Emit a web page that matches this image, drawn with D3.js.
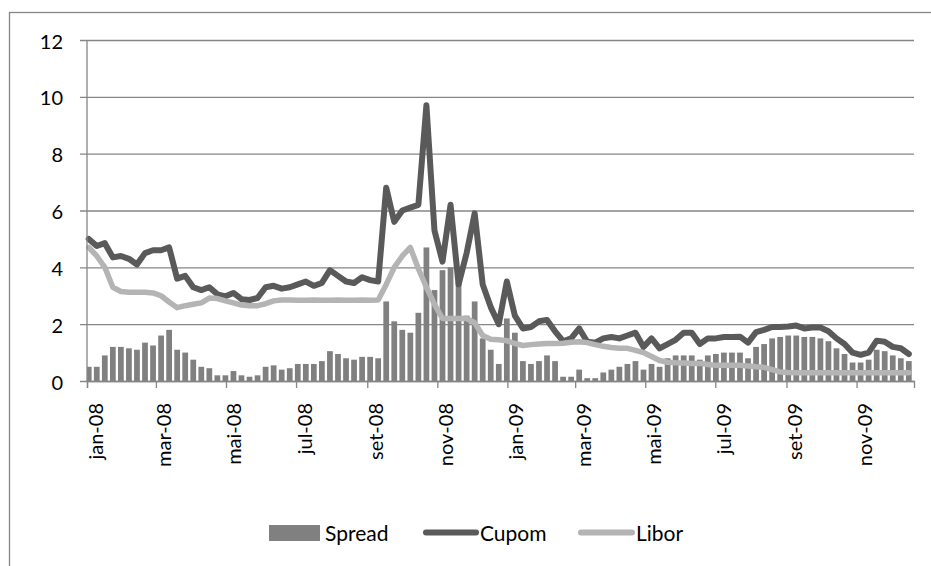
<!DOCTYPE html>
<html>
<head>
<meta charset="utf-8">
<script src="https://cdn.jsdelivr.net/npm/d3@7"></script>
<style>
  body { margin: 0; background: #fff; }
  text { font-family: Lato, "Open Sans", sans-serif; fill: #000; }
</style>
</head>
<body>
<div id="chart"></div>
<script>
// weekly values, one per week starting monday 31 dec 2007
var spread = [0.5, 0.5, 0.9, 1.2, 1.2, 1.15, 1.1, 1.35, 1.25, 1.6,
  1.8, 1.1, 1.0, 0.75, 0.5, 0.45, 0.2, 0.2, 0.35, 0.2,
  0.15, 0.2, 0.5, 0.55, 0.4, 0.45, 0.6, 0.6, 0.6, 0.7,
  1.05, 0.95, 0.8, 0.75, 0.85, 0.85, 0.8, 2.8, 2.1, 1.8,
  1.7, 2.4, 4.7, 3.2, 3.9, 4.0, 3.5, 2.3, 2.8, 1.5,
  1.1, 0.6, 2.2, 1.7, 0.7, 0.6, 0.7, 0.9, 0.7, 0.15,
  0.15, 0.4, 0.1, 0.1, 0.3, 0.4, 0.5, 0.6, 0.7, 0.4,
  0.6, 0.5, 0.8, 0.9, 0.9, 0.9, 0.75, 0.9, 0.95, 1.0,
  1.0, 1.0, 0.8, 1.2, 1.3, 1.5, 1.55, 1.6, 1.6, 1.55,
  1.55, 1.5, 1.4, 1.15, 0.95, 0.65, 0.65, 0.75, 1.1, 1.05,
  0.9, 0.8, 0.7];

var cupom = [5.0, 4.75, 4.85, 4.35, 4.4, 4.3, 4.1, 4.5, 4.6, 4.6,
  4.7, 3.6, 3.7, 3.3, 3.2, 3.3, 3.05, 2.98, 3.1, 2.88,
  2.85, 2.92, 3.3, 3.35, 3.25, 3.3, 3.4, 3.5, 3.35, 3.45,
  3.9, 3.7, 3.5, 3.45, 3.65, 3.55, 3.5, 6.8, 5.6, 6.0,
  6.1, 6.2, 9.7, 5.3, 4.2, 6.2, 3.4, 4.5, 5.9, 3.4,
  2.6, 2.0, 3.5, 2.3, 1.85, 1.9, 2.1, 2.15, 1.75, 1.4,
  1.5, 1.85, 1.38, 1.35, 1.5, 1.55, 1.5, 1.6, 1.7, 1.2,
  1.5, 1.15, 1.3, 1.45, 1.7, 1.7, 1.3, 1.5, 1.5, 1.55,
  1.55, 1.56, 1.35, 1.72, 1.8, 1.9, 1.9, 1.92, 1.95, 1.85,
  1.88, 1.88, 1.75, 1.5, 1.3, 1.0, 0.92, 1.0, 1.42, 1.38,
  1.2, 1.15, 0.95];

var libor = [4.7, 4.4, 4.0, 3.3, 3.15, 3.12, 3.12, 3.12, 3.1, 3.0,
  2.78, 2.58, 2.65, 2.7, 2.75, 2.92, 2.9, 2.82, 2.75, 2.67,
  2.65, 2.65, 2.72, 2.82, 2.85, 2.85, 2.84, 2.84, 2.85, 2.84,
  2.84, 2.85, 2.84, 2.84, 2.85, 2.84, 2.85, 3.4, 4.0, 4.4,
  4.7, 3.95, 3.3, 2.7, 2.2, 2.2, 2.2, 2.2, 2.05, 1.6,
  1.47, 1.45, 1.42, 1.32, 1.25, 1.28, 1.3, 1.32, 1.32, 1.33,
  1.36, 1.38, 1.35, 1.28, 1.22, 1.18, 1.15, 1.15, 1.08, 1.0,
  0.86, 0.72, 0.66, 0.64, 0.63, 0.62, 0.62, 0.58, 0.55, 0.55,
  0.55, 0.55, 0.53, 0.5, 0.48, 0.4, 0.32, 0.3, 0.29, 0.29,
  0.29, 0.29, 0.29, 0.29, 0.29, 0.29, 0.29, 0.29, 0.29, 0.29,
  0.29, 0.29, 0.29];

var monthLabels = ["jan-08", "mar-08", "mai-08", "jul-08", "set-08", "nov-08",
  "jan-09", "mar-09", "mai-09", "jul-09", "set-09", "nov-09"];
var yTicks = [0, 2, 4, 6, 8, 10, 12];

var width = 931, height = 566;
var startDate = new Date(2008, 0, 1), endDate = new Date(2009, 11, 21);
var weeks = d3.timeMonday.range(new Date(2007, 11, 31), endDate);

var x = d3.scaleTime().domain([startDate, endDate]).range([87, 914]);
var y = d3.scaleLinear().domain([0, 12]).range([381, 40]);

var gridColor = "#868686";

var svg = d3.select("#chart").append("svg")
    .attr("width", width)
    .attr("height", height);

// outer chart border
svg.append("rect")
    .attr("x", 9.5).attr("y", 12.5)
    .attr("width", 940).attr("height", 600)
    .attr("fill", "none")
    .attr("stroke", gridColor)
    .attr("stroke-width", 1.3);

// horizontal gridlines + y labels
var yAxis = d3.axisLeft(y)
    .tickValues(yTicks)
    .tickSize(-(914 - 80))
    .tickPadding(17);

svg.append("g")
    .attr("transform", "translate(80,0)")
    .call(yAxis)
    .call(function(g) {
      g.select(".domain").remove();
      g.selectAll(".tick line").attr("stroke", gridColor).attr("stroke-width", 1.3);
      g.selectAll(".tick text")
        .style("font-size", "20px")
        .attr("dy", "0.4em");
    });

function dayAfter(d, n) {
  return new Date(d.getTime() + n * 864e5);
}

// spread bars, monday to friday of each week
svg.append("g")
  .selectAll("rect")
  .data(spread)
  .enter().append("rect")
    .attr("x", function(d, i) { return x(weeks[i] < startDate ? startDate : weeks[i]); })
    .attr("width", function(d, i) {
      var a = weeks[i] < startDate ? startDate : weeks[i];
      return x(dayAfter(weeks[i], 5)) - x(a);
    })
    .attr("y", function(d) { return y(d); })
    .attr("height", function(d) { return y(0) - y(d); })
    .attr("fill", "#808080");

var line = d3.line()
    .x(function(d, i) { return x(dayAfter(weeks[i], 2.5)); })
    .y(function(d) { return y(d); });

svg.append("path")
    .datum(cupom)
    .attr("d", line)
    .attr("fill", "none")
    .attr("stroke", "#5a5a5a")
    .attr("stroke-width", 6)
    .attr("stroke-linejoin", "round")
    .attr("stroke-linecap", "round");

svg.append("path")
    .datum(libor)
    .attr("d", line)
    .attr("fill", "none")
    .attr("stroke", "#b4b4b4")
    .attr("stroke-width", 5.5)
    .attr("stroke-linejoin", "round")
    .attr("stroke-linecap", "round");

// y axis line
svg.append("line")
    .attr("x1", 87).attr("x2", 87)
    .attr("y1", y(12)).attr("y2", y(0))
    .attr("stroke", gridColor)
    .attr("stroke-width", 1.3);

// x axis
var tickDates = d3.timeMonth.every(2).range(startDate, endDate);
var xAxis = d3.axisBottom(x)
    .tickValues(tickDates)
    .tickSize(7)
    .tickFormat(function(d, i) { return monthLabels[i]; });

svg.append("g")
    .attr("transform", "translate(0," + y(0) + ")")
    .call(xAxis)
    .call(function(g) {
      g.select(".domain").attr("stroke", gridColor).attr("stroke-width", 1.3);
      g.selectAll(".tick line").attr("stroke", gridColor).attr("stroke-width", 1.3);
      g.selectAll(".tick text")
        .style("font-size", "20px")
        .attr("text-anchor", "end")
        .attr("transform", "translate(8,22) rotate(-90)")
        .attr("x", 0).attr("y", 0)
        .attr("dy", "0.35em");
    });

// legend
var legend = svg.append("g").attr("class", "legend");

legend.append("rect")
    .attr("x", 269).attr("y", 525)
    .attr("width", 51).attr("height", 16)
    .attr("fill", "#808080");
legend.append("text")
    .attr("x", 325).attr("y", 541)
    .style("font-size", "21px")
    .text("Spread");

legend.append("line")
    .attr("x1", 426).attr("x2", 476)
    .attr("y1", 532.5).attr("y2", 532.5)
    .attr("stroke", "#5a5a5a")
    .attr("stroke-width", 6)
    .attr("stroke-linecap", "round");
legend.append("text")
    .attr("x", 480).attr("y", 541)
    .style("font-size", "21px")
    .text("Cupom");

legend.append("line")
    .attr("x1", 581).attr("x2", 632)
    .attr("y1", 532.5).attr("y2", 532.5)
    .attr("stroke", "#b4b4b4")
    .attr("stroke-width", 6)
    .attr("stroke-linecap", "round");
legend.append("text")
    .attr("x", 636).attr("y", 541)
    .style("font-size", "21px")
    .text("Libor");
</script>
</body>
</html>
